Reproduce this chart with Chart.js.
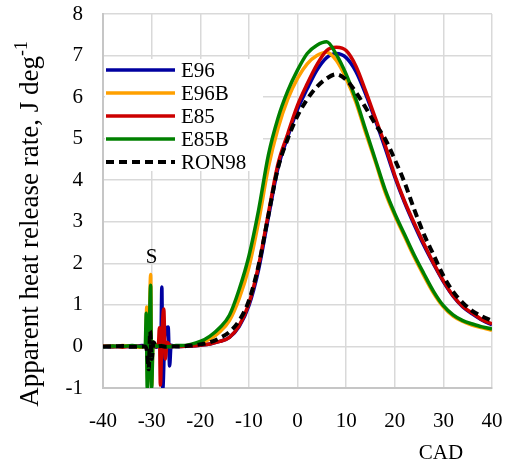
<!DOCTYPE html>
<html>
<head>
<meta charset="utf-8">
<script src="https://cdn.jsdelivr.net/npm/chart.js@4.4.0/dist/chart.umd.min.js"></script>
<style>
  html, body { margin: 0; padding: 0; background: #fff; }
</style>
</head>
<body>
<canvas id="chart" width="506" height="465"></canvas>
<script>
// tick labels
const xTicks = [-40, -30, -20, -10, 0, 10, 20, 30, 40];
const yTicks = [-1, 0, 1, 2, 3, 4, 5, 6, 7, 8];

// shared crank-angle grid for the main combustion part
const cadGrid = [-24, -22, -20, -18, -16, -14, -12, -10, -8, -6, -4, -2, 0, 2, 4, 6, 8,
  10, 12, 14, 16, 18, 20, 22, 24, 26, 28, 30, 32, 34, 36, 38, 40];

const e96Main = [0.0, 0.01, 0.03, 0.06, 0.12, 0.22, 0.48, 0.98, 1.85, 3.1, 4.3, 5.05, 5.7, 6.2, 6.65, 6.95, 7.05,
  6.95, 6.62, 6.08, 5.45, 4.78, 4.08, 3.47, 2.93, 2.43, 1.98, 1.56, 1.21, 0.95, 0.78, 0.63, 0.52];
const e96bMain = [0.01, 0.03, 0.08, 0.18, 0.35, 0.62, 1.15, 1.9, 3.0, 4.3, 5.25, 5.95, 6.45, 6.8, 7.0, 7.08, 6.88,
  6.45, 5.88, 5.15, 4.45, 3.72, 3.15, 2.65, 2.15, 1.7, 1.28, 0.95, 0.73, 0.6, 0.51, 0.45, 0.39];
const e85Main = [0.0, 0.01, 0.03, 0.06, 0.12, 0.22, 0.5, 1.03, 1.95, 3.2, 4.4, 5.12, 5.8, 6.32, 6.78, 7.12, 7.2,
  7.12, 6.75, 6.15, 5.5, 4.85, 4.12, 3.5, 2.97, 2.47, 2.0, 1.58, 1.22, 0.96, 0.8, 0.64, 0.54];
const e85bMain = [0.02, 0.05, 0.12, 0.25, 0.45, 0.75, 1.37, 2.17, 3.28, 4.6, 5.5, 6.15, 6.65, 7.05, 7.25, 7.33, 7.02,
  6.55, 5.95, 5.22, 4.5, 3.78, 3.2, 2.7, 2.2, 1.75, 1.32, 0.98, 0.76, 0.62, 0.54, 0.47, 0.42];
const ron98Main = [0.0, 0.02, 0.05, 0.1, 0.2, 0.35, 0.62, 1.1, 1.95, 3.15, 4.3, 5.0, 5.55, 5.95, 6.25, 6.45, 6.55,
  6.42, 6.12, 5.75, 5.35, 5.0, 4.5, 3.95, 3.3, 2.7, 2.2, 1.7, 1.32, 1.05, 0.85, 0.72, 0.62];

// early part with the spark noise (S)
const e96SpikeCad = [-40, -38, -36, -34, -32, -30, -29, -28.1, -27.9, -27.7, -27.3, -26.6, -26.3, -26, -25];
const e96SpikeVal = [0.0, -0.02, 0.01, -0.01, 0.02, 0.0, -0.02, 0.1, 1.43, -1.02, 0.2, 0.47, -0.47, 0.03, 0.0];
const e96bSpikeCad = [-40, -38, -36, -34, -32, -31.6, -31.2, -31.0, -30.8, -30.5, -30.2, -30.0, -29.7, -29, -28, -27, -26, -25];
const e96bSpikeVal = [0.01, -0.01, 0.02, 0.0, -0.02, 0.0, 0.05, 0.95, -0.85, 0.3, 1.73, -0.95, 0.1, 0.02, -0.02, 0.01, 0.0, 0.01];
const e85SpikeCad = [-40, -38, -36, -34, -32, -30, -29, -28.6, -28.4, -28.2, -27.9, -27.5, -27.2, -26.8, -26, -25];
const e85SpikeVal = [0.0, 0.01, -0.02, 0.01, 0.0, -0.01, 0.0, 0.05, 0.45, -0.93, 0.2, 0.9, -0.3, 0.1, 0.0, 0.01];
const e85bSpikeCad = [-40, -38, -36, -34, -32, -31.6, -31.3, -31.1, -30.9, -30.5, -30.2, -30.0, -29.7, -29, -28, -27, -26, -25];
const e85bSpikeVal = [-0.01, 0.01, 0.0, 0.02, -0.01, 0.0, 0.05, 0.8, -1.02, 0.3, 1.47, -1.0, 0.1, 0.0, 0.02, -0.01, 0.0, 0.02];
const ron98SpikeCad = [-40, -38, -36, -34, -32, -31.4, -30.9, -30.6, -30.3, -30.0, -29.6, -29, -28, -27, -26, -25];
const ron98SpikeVal = [0.0, 0.0, 0.01, -0.01, 0.0, 0.0, -0.15, -0.55, 0.37, -0.3, 0.1, 0.0, 0.01, -0.01, 0.0, 0.0];

const seriesNames = ['E96', 'E96B', 'E85', 'E85B', 'RON98'];
const seriesColors = ['#0000a0', '#ffa000', '#cc0000', '#008000', '#000000'];

function toPoints(xs, ys) {
  return xs.map((x, i) => ({ x: x, y: ys[i] }));
}
function series(spikeCad, spikeVal, main) {
  return toPoints(spikeCad, spikeVal).concat(toPoints(cadGrid, main));
}

// pick the first serif face that is really installed
function pickSerif() {
  const c = document.createElement('canvas').getContext('2d');
  const probe = 'abcdefghijklmnopqrstuvwxyz0123456789';
  c.font = '72px monospace';
  const base = c.measureText(probe).width;
  const names = ['Liberation Serif', 'Tinos', 'Times New Roman', 'DejaVu Serif', 'Noto Serif', 'FreeSerif'];
  for (const n of names) {
    c.font = "72px '" + n + "', monospace";
    if (c.measureText(probe).width !== base) return "'" + n + "', serif";
  }
  return 'serif';
}
const serif = pickSerif();

function lineDs(i, data, order, dashed) {
  return {
    label: seriesNames[i],
    data: data,
    borderColor: seriesColors[i],
    borderWidth: dashed ? 4 : 3.5,
    borderDash: dashed ? [8, 5] : [],
    pointRadius: 0,
    cubicInterpolationMode: 'monotone',
    fill: false,
    order: order
  };
}

const legendRows = [70, 93, 116, 139, 162];

// legend box, annotation and axis titles
const decor = {
  id: 'decor',
  beforeDatasetsDraw(chart) {
    // legend background hides the grid only, the curves stay on top
    const ctx = chart.ctx;
    ctx.save();
    ctx.fillStyle = '#fff';
    ctx.fillRect(105, 59, 158, 112);
    ctx.restore();
  },
  afterDatasetsDraw(chart) {
    const ctx = chart.ctx;
    const xs = chart.scales.x, ys = chart.scales.y;
    ctx.save();
    ctx.font = '21px ' + serif;
    ctx.textBaseline = 'middle';
    ctx.textAlign = 'left';
    for (let i = 0; i < seriesNames.length; i++) {
      ctx.beginPath();
      ctx.strokeStyle = seriesColors[i];
      ctx.lineWidth = i === 4 ? 4 : 3.5;
      ctx.setLineDash(i === 4 ? [8, 5] : []);
      ctx.moveTo(106, legendRows[i]);
      ctx.lineTo(175, legendRows[i]);
      ctx.stroke();
      ctx.fillStyle = '#000';
      ctx.fillText(seriesNames[i], 181, legendRows[i] + 1);
    }
    ctx.setLineDash([]);
    // spark marker
    ctx.textAlign = 'center';
    ctx.fillText('S', xs.getPixelForValue(-30), ys.getPixelForValue(2.13));
    // x title
    ctx.fillText('CAD', xs.getPixelForValue(29.5), 453);
    // y title with superscript, sized to run from about y=421 up to y=27
    const main = 'Apparent heat release rate, J deg';
    ctx.font = '21px ' + serif;
    const w21 = ctx.measureText(main).width + ctx.measureText('-1').width * 0.66;
    const fs = Math.min(27, 21 * 392 / w21);
    const ss = fs * 0.66;
    ctx.font = fs + 'px ' + serif;
    const w1 = ctx.measureText(main).width;
    ctx.font = ss + 'px ' + serif;
    const w2 = ctx.measureText('-1').width;
    ctx.translate(38, 224);
    ctx.rotate(-Math.PI / 2);
    ctx.textAlign = 'left';
    ctx.textBaseline = 'alphabetic';
    const start = -(w1 + w2) / 2;
    ctx.font = fs + 'px ' + serif;
    ctx.fillText(main, start, 0);
    ctx.font = ss + 'px ' + serif;
    ctx.fillText('-1', start + w1, -fs * 0.4);
    ctx.restore();
  }
};

new Chart(document.getElementById('chart'), {
  type: 'line',
  data: {
    datasets: [
      lineDs(0, series(e96SpikeCad, e96SpikeVal, e96Main), 4, false),
      lineDs(1, series(e96bSpikeCad, e96bSpikeVal, e96bMain), 3, false),
      lineDs(2, series(e85SpikeCad, e85SpikeVal, e85Main), 2, false),
      lineDs(3, series(e85bSpikeCad, e85bSpikeVal, e85bMain), 1, false),
      lineDs(4, series(ron98SpikeCad, ron98SpikeVal, ron98Main), 0, true)
    ]
  },
  options: {
    responsive: false,
    animation: false,
    devicePixelRatio: 1,
    layout: { padding: 0 },
    plugins: {
      legend: { display: false },
      tooltip: { enabled: false }
    },
    scales: {
      x: {
        type: 'linear',
        min: -40,
        max: 40,
        afterBuildTicks: s => { s.ticks = xTicks.map(v => ({ value: v })); },
        afterFit: s => { s.height = 77; s.paddingLeft = 0; s.paddingRight = 14; },
        ticks: { color: '#000', font: { family: serif, size: 21, lineHeight: 1 }, padding: 23, maxRotation: 0 },
        grid: { color: '#d9d9d9', lineWidth: 1.5, drawTicks: false },
        border: { color: '#c6c6c6', width: 2 }
      },
      y: {
        min: -1,
        max: 8,
        afterBuildTicks: s => { s.ticks = yTicks.map(v => ({ value: v })); },
        afterFit: s => { s.width = 103; s.paddingTop = 14; s.paddingBottom = 0; },
        ticks: { color: '#000', font: { family: serif, size: 21, lineHeight: 1 }, padding: 20 },
        grid: { color: '#d9d9d9', lineWidth: 1.5, drawTicks: false },
        border: { color: '#c6c6c6', width: 2 }
      }
    }
  },
  plugins: [decor]
});
</script>
</body>
</html>
